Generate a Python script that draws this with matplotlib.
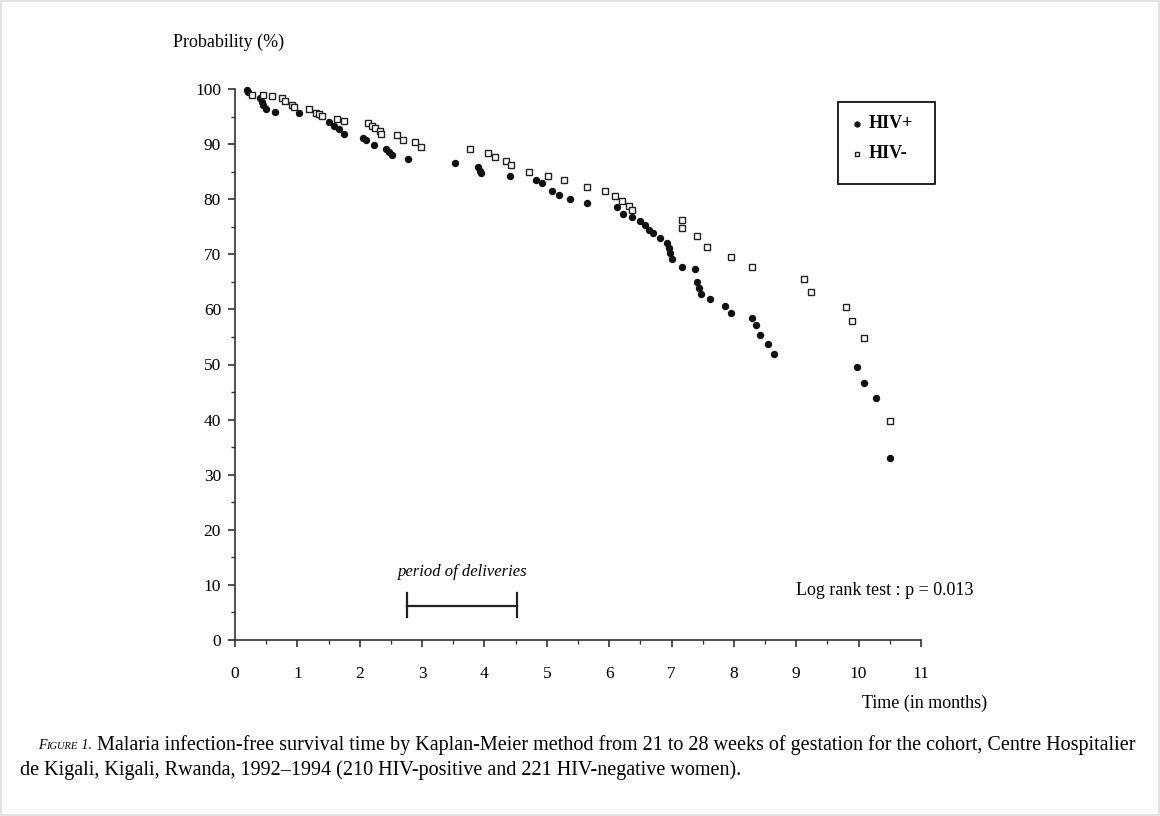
import matplotlib.pyplot as plt
from matplotlib.lines import Line2D
from matplotlib.patches import Rectangle

plt.rcParams['font.family'] = ['Liberation Serif', 'DejaVu Serif']

# Kaplan-Meier event points (time in months, probability in %)
hiv_pos_t = [0.19, 0.21, 0.40, 0.43, 0.45, 0.50, 0.64, 1.03, 1.36, 1.50, 1.58, 1.66, 1.74,
             2.06, 2.10, 2.23, 2.42, 2.47, 2.52, 2.78, 3.53, 3.90, 3.93, 3.95, 4.41, 4.83,
             4.93, 5.09, 5.20, 5.37, 5.64, 6.12, 6.22, 6.36, 6.49, 6.57, 6.64, 6.70, 6.81,
             6.93, 6.96, 6.98, 7.00, 7.17, 7.38, 7.41, 7.44, 7.47, 7.61, 7.86, 7.96, 8.29,
             8.35, 8.42, 8.54, 8.65, 9.97, 10.09, 10.28, 10.51]
hiv_pos_p = [99.8, 99.4, 98.3, 97.7, 97.1, 96.3, 95.9, 95.6, 95.3, 94.1, 93.2, 92.7, 91.8,
             91.1, 90.7, 89.8, 89.2, 88.6, 88.0, 87.3, 86.5, 85.9, 85.2, 84.7, 84.2, 83.5,
             83.0, 81.5, 80.8, 80.0, 79.4, 78.5, 77.4, 76.8, 76.0, 75.3, 74.5, 73.8, 72.9,
             72.0, 71.1, 70.2, 69.1, 67.7, 67.4, 65.0, 63.8, 62.8, 61.8, 60.6, 59.4, 58.4,
             57.2, 55.4, 53.7, 51.9, 49.6, 46.6, 44.0, 33.1]

hiv_neg_t = [0.27, 0.45, 0.59, 0.75, 0.80, 0.91, 0.95, 1.18, 1.30, 1.34, 1.39, 1.64, 1.74,
             2.13, 2.20, 2.25, 2.32, 2.34, 2.59, 2.69, 2.88, 2.99, 3.77, 4.06, 4.17, 4.34,
             4.42, 4.72, 5.02, 5.27, 5.64, 5.93, 6.09, 6.21, 6.32, 6.36, 7.17, 7.17, 7.41,
             7.57, 7.96, 8.29, 9.13, 9.24, 9.80, 9.89, 10.09, 10.51]
hiv_neg_p = [98.9, 98.9, 98.7, 98.3, 97.9, 97.1, 96.8, 96.3, 95.6, 95.4, 95.1, 94.5, 94.2,
             93.8, 93.2, 92.9, 92.3, 91.8, 91.7, 90.7, 90.4, 89.5, 89.1, 88.4, 87.7, 86.9,
             86.2, 84.9, 84.2, 83.5, 82.3, 81.5, 80.5, 79.7, 78.8, 78.0, 76.2, 74.7, 73.3,
             71.4, 69.6, 67.7, 65.5, 63.2, 60.5, 57.9, 54.8, 39.8]

deliveries = [2.75, 4.52]
x_ticks = list(range(0, 12))
y_ticks = list(range(0, 101, 10))

W, H = 1160, 816


def fx(px):
    return px / W


def fy(py):
    return 1 - py / H


fig = plt.figure(figsize=(11.6, 8.16), dpi=100)
ax = fig.add_axes([fx(235), fy(640), 686 / W, 551 / H])

ax.plot(hiv_pos_t, hiv_pos_p, ls='none', marker='o', ms=4.3, color='#111111',
        clip_on=False)
ax.plot(hiv_neg_t, hiv_neg_p, ls='none', marker='s', ms=4.2, mfc='white',
        mec='#222222', mew=1.0, clip_on=False)

ax.set_xlim(0, 11)
ax.set_ylim(0, 100)
ax.spines['top'].set_visible(False)
ax.spines['right'].set_visible(False)
for s in ('left', 'bottom'):
    ax.spines[s].set_linewidth(1.2)
    ax.spines[s].set_color('#333333')

ax.set_xticks(x_ticks)
ax.set_xticks([t + 0.5 for t in x_ticks[:-1]], minor=True)
ax.set_yticks(y_ticks)
ax.set_yticks([t + 5 for t in y_ticks[:-1]], minor=True)
ax.tick_params(axis='both', which='major', labelsize=12.5, length=5, width=1.2,
               color='#333333')
ax.tick_params(axis='both', which='minor', length=3, width=1.0, color='#333333')
ax.tick_params(axis='x', which='major', pad=14)
ax.tick_params(axis='y', which='major', pad=5)

# period of deliveries bracket
ax.plot(deliveries, [6.2, 6.2], color='#222222', lw=1.6)
for d in deliveries:
    ax.plot([d, d], [4.2, 8.6], color='#222222', lw=1.6)
ax.text(sum(deliveries) / 2 + 0.02, 12.4, 'period of deliveries', style='italic',
        fontsize=12, ha='center', va='center')

ax.text(9.0, 9.0, 'Log rank test : p = 0.013', fontsize=13, ha='left', va='center')

fig.text(fx(173), fy(42), 'Probability (%)', fontsize=13, ha='left', va='center')
fig.text(fx(987), fy(703), 'Time (in months)', fontsize=13, ha='right', va='center')

# legend box
fig.patches.append(Rectangle((fx(838), fy(184)), 97 / W, 82 / H, transform=fig.transFigure,
                             fill=False, edgecolor='#111111', lw=1.3))
fig.add_artist(Line2D([fx(857)], [fy(124)], ls='none', marker='o', ms=3.5,
                      color='#111111', transform=fig.transFigure))
fig.add_artist(Line2D([fx(857)], [fy(154)], ls='none', marker='s', ms=3.5,
                      mfc='white', mec='#222222', transform=fig.transFigure))
fig.text(fx(869), fy(124), 'HIV+', fontsize=13, fontweight='bold', ha='left', va='center')
fig.text(fx(869), fy(154), 'HIV-', fontsize=13, fontweight='bold', ha='left', va='center')

# caption, "FIGURE 1." set in italic small caps
renderer = fig.canvas.get_renderer()
x_px = 38
for part, size in [('F', 10), ('IGURE', 7.5), ('\u00a01.', 10)]:
    t = fig.text(fx(x_px), fy(749), part, style='italic', fontsize=size,
                 ha='left', va='baseline')
    x_px += t.get_window_extent(renderer).width
fig.text(fx(97), fy(745),
         'Malaria infection-free survival time by Kaplan-Meier method from 21 to 28 weeks '
         'of gestation for the cohort, Centre Hospitalier',
         fontsize=14.5, ha='left', va='center')
fig.text(fx(20), fy(770),
         'de Kigali, Kigali, Rwanda, 1992\u20131994 (210 HIV-positive and 221 '
         'HIV-negative women).',
         fontsize=14.5, ha='left', va='center')

fig.patches.append(Rectangle((0, 0), 1, 1, transform=fig.transFigure, fill=False,
                             edgecolor='#e4e4e4', lw=3))

fig.savefig('out.png', dpi=100)
